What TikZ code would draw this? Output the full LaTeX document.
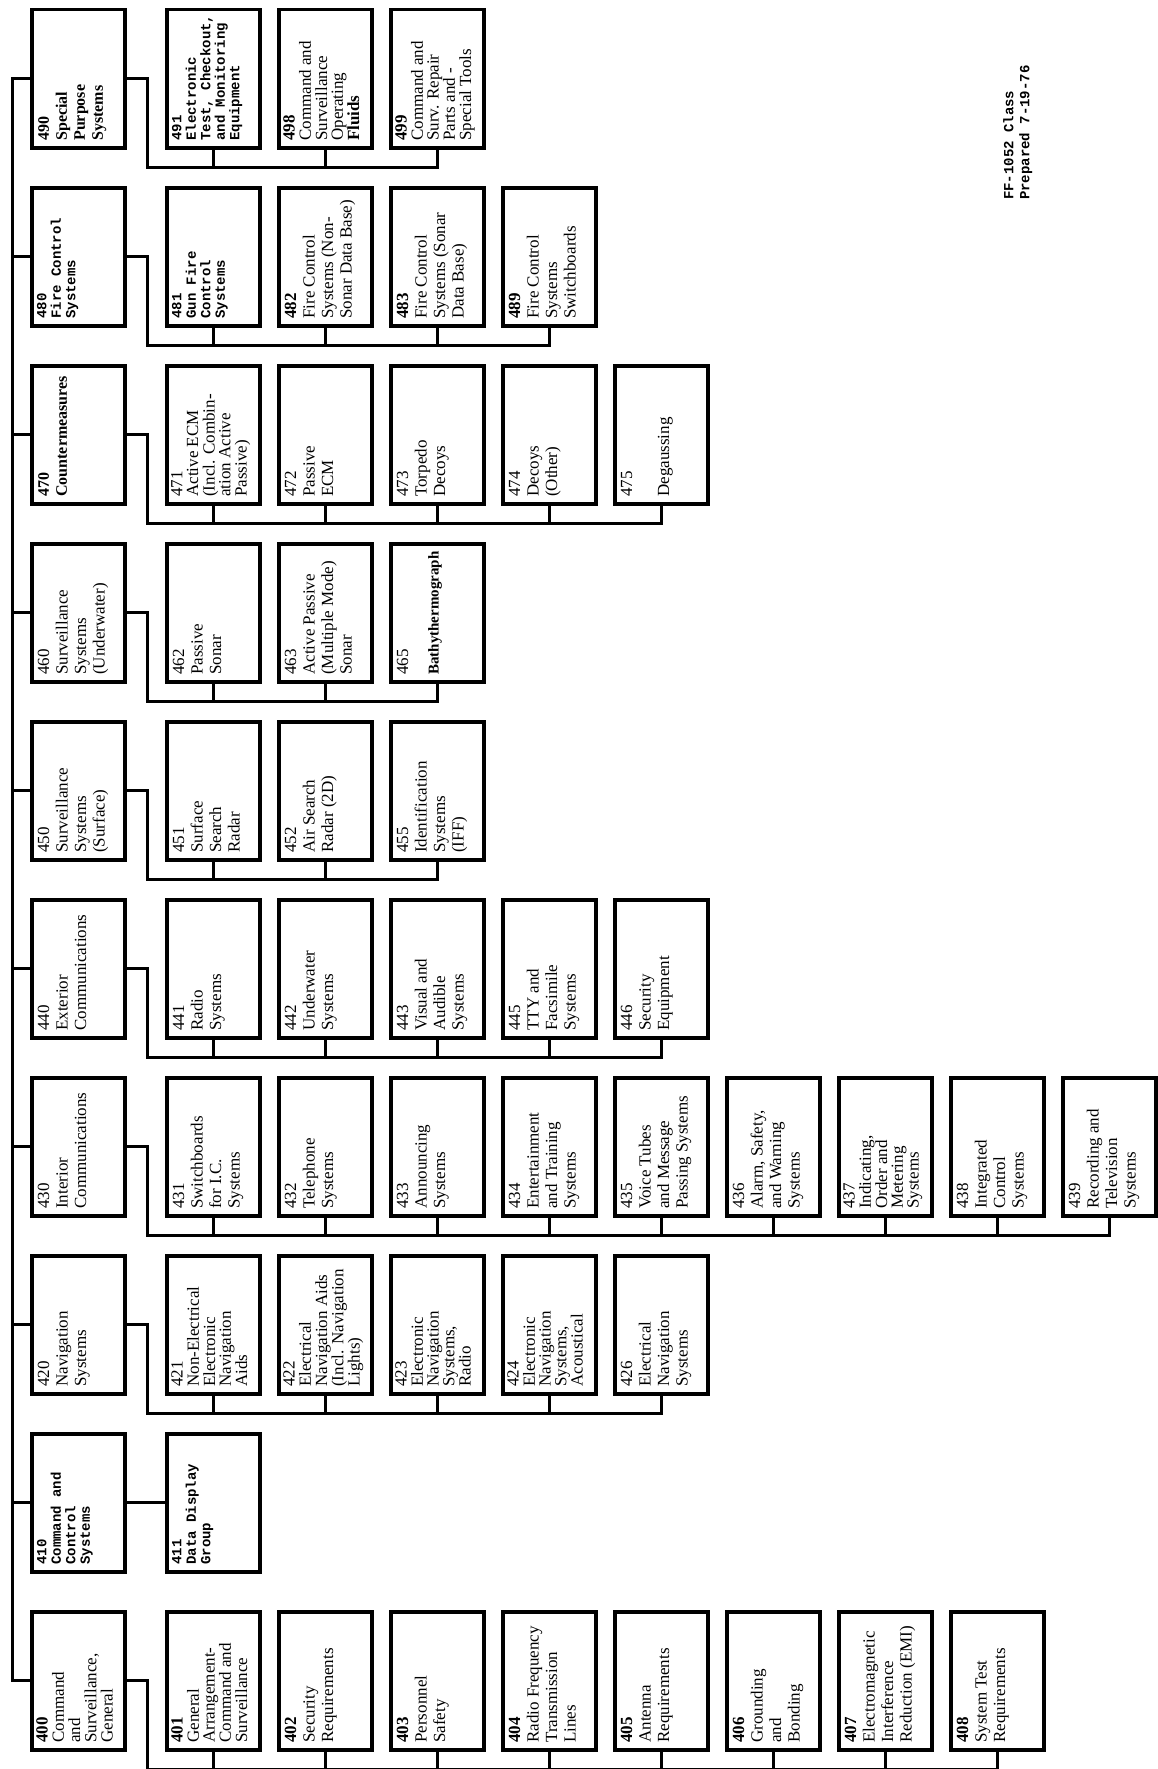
\documentclass[tikz,border=0pt]{standalone}
\usepackage{fontspec}
\setmainfont{Liberation Serif}
\setmonofont{Liberation Mono}
\usepackage{graphicx}
\usepackage{tikz}

% text of a box, turned to read upwards
\newcommand{\sidetext}[1]{\rotatebox{90}{\parbox[c][84pt][t]{124pt}{\begin{tabular}[t]{@{}l@{}}#1\end{tabular}}}}

\begin{document}
\begin{tikzpicture}[x=1pt, y=-1pt,
        unit/.style={draw, line width=3.5pt, anchor=north west, minimum width=93pt, minimum height=138pt, inner sep=0pt, font={\fontsize{17}{18.5}\selectfont}},
        dense/.style={font={\fontsize{17}{15}\selectfont}},
        heavy/.style={font={\bfseries\fontsize{16}{18}\selectfont}},
        typed/.style={font={\ttfamily\bfseries\fontsize{14}{14.5}\selectfont}},
        link/.style={line width=3pt}
    ]
        \useasboundingbox (0,0) rectangle (1158,1769);

        % 490 row
        \node (n490) [unit, heavy] at (30,8) {\sidetext{490\\Special\\Purpose\\Systems}};
        \node (n491) [unit, typed] at (165,8) {\sidetext{491\\Electronic\\Test, Checkout,\\and Monitoring\\Equipment}};
        \node (n498) [unit, dense] at (277,8) {\sidetext{\textbf{498}\\Command and\\Surveillance\\Operating\\\textbf{Fluids}}};
        \node (n499) [unit, dense] at (389,8) {\sidetext{\textbf{499}\\Command and\\Surv. Repair\\Parts and -\\Special Tools}};

        % 480 row
        \node (n480) [unit, typed] at (30,186) {\sidetext{480\\Fire Control\\Systems}};
        \node (n481) [unit, typed] at (165,186) {\sidetext{481\\Gun Fire\\Control\\Systems}};
        \node (n482) [unit] at (277,186) {\sidetext{\textbf{482}\\Fire Control\\Systems (Non-\\Sonar Data Base)}};
        \node (n483) [unit] at (389,186) {\sidetext{\textbf{483}\\Fire Control\\Systems (Sonar\\Data Base)}};
        \node (n489) [unit] at (501,186) {\sidetext{\textbf{489}\\Fire Control\\Systems\\Switchboards}};

        % 470 row
        \node (n470) [unit, heavy] at (30,364) {\sidetext{470\\Countermeasures}};
        \node (n471) [unit, dense] at (165,364) {\sidetext{471\\Active ECM\\(Incl. Combin-\\ation Active\\Passive)}};
        \node (n472) [unit] at (277,364) {\sidetext{472\\Passive\\ECM}};
        \node (n473) [unit] at (389,364) {\sidetext{473\\Torpedo\\Decoys}};
        \node (n474) [unit] at (501,364) {\sidetext{474\\Decoys\\(Other)}};
        \node (n475) [unit] at (613,364) {\sidetext{475\\ \\Degaussing}};

        % 460 row
        \node (n460) [unit] at (30,542) {\sidetext{460\\Surveillance\\Systems\\(Underwater)}};
        \node (n462) [unit] at (165,542) {\sidetext{462\\Passive\\Sonar}};
        \node (n463) [unit] at (277,542) {\sidetext{463\\Active Passive\\(Multiple Mode)\\Sonar}};
        \node (n465) [unit] at (389,542) {\sidetext{465\\[12pt]{\bfseries\fontsize{15}{17}\selectfont Bathythermograph}}};

        % 450 row
        \node (n450) [unit] at (30,720) {\sidetext{450\\Surveillance\\Systems\\(Surface)}};
        \node (n451) [unit] at (165,720) {\sidetext{451\\Surface\\Search\\Radar}};
        \node (n452) [unit] at (277,720) {\sidetext{452\\Air Search\\Radar (2D)}};
        \node (n455) [unit] at (389,720) {\sidetext{455\\Identification\\Systems\\(IFF)}};

        % 440 row
        \node (n440) [unit] at (30,898) {\sidetext{440\\Exterior\\Communications}};
        \node (n441) [unit] at (165,898) {\sidetext{441\\Radio\\Systems}};
        \node (n442) [unit] at (277,898) {\sidetext{442\\Underwater\\Systems}};
        \node (n443) [unit] at (389,898) {\sidetext{443\\Visual and\\Audible\\Systems}};
        \node (n445) [unit] at (501,898) {\sidetext{445\\TTY and\\Facsimile\\Systems}};
        \node (n446) [unit] at (613,898) {\sidetext{446\\Security\\Equipment}};

        % 430 row
        \node (n430) [unit] at (30,1076) {\sidetext{430\\Interior\\Communications}};
        \node (n431) [unit] at (165,1076) {\sidetext{431\\Switchboards\\for I.C.\\Systems}};
        \node (n432) [unit] at (277,1076) {\sidetext{432\\Telephone\\Systems}};
        \node (n433) [unit] at (389,1076) {\sidetext{433\\Announcing\\Systems}};
        \node (n434) [unit] at (501,1076) {\sidetext{434\\Entertainment\\and Training\\Systems}};
        \node (n435) [unit] at (613,1076) {\sidetext{435\\Voice Tubes\\and Message\\Passing Systems}};
        \node (n436) [unit] at (725,1076) {\sidetext{436\\Alarm, Safety,\\and Warning\\Systems}};
        \node (n437) [unit, dense] at (837,1076) {\sidetext{437\\Indicating,\\Order and\\Metering\\Systems}};
        \node (n438) [unit] at (949,1076) {\sidetext{438\\Integrated\\Control\\Systems}};
        \node (n439) [unit] at (1061,1076) {\sidetext{439\\Recording and\\Television\\Systems}};

        % 420 row
        \node (n420) [unit] at (30,1254) {\sidetext{420\\Navigation\\Systems}};
        \node (n421) [unit, dense] at (165,1254) {\sidetext{421\\Non-Electrical\\Electronic\\Navigation\\Aids}};
        \node (n422) [unit, dense] at (277,1254) {\sidetext{422\\Electrical\\Navigation Aids\\(Incl. Navigation\\Lights)}};
        \node (n423) [unit, dense] at (389,1254) {\sidetext{423\\Electronic\\Navigation\\Systems,\\Radio}};
        \node (n424) [unit, dense] at (501,1254) {\sidetext{424\\Electronic\\Navigation\\Systems,\\Acoustical}};
        \node (n426) [unit] at (613,1254) {\sidetext{426\\Electrical\\Navigation\\Systems}};

        % 410 row
        \node (n410) [unit, typed] at (30,1432) {\sidetext{410\\Command and\\Control\\Systems}};
        \node (n411) [unit, typed] at (165,1432) {\sidetext{411\\Data Display\\Group}};

        % 400 row
        \node (n400) [unit, dense] at (30,1610) {\sidetext{\textbf{400}\\Command\\and\\Surveillance,\\General}};
        \node (n401) [unit, dense] at (165,1610) {\sidetext{\textbf{401}\\General\\Arrangement-\\Command and\\Surveillance}};
        \node (n402) [unit] at (277,1610) {\sidetext{\textbf{402}\\Security\\Requirements}};
        \node (n403) [unit] at (389,1610) {\sidetext{\textbf{403}\\Personnel\\Safety}};
        \node (n404) [unit] at (501,1610) {\sidetext{\textbf{404}\\Radio Frequency\\Transmission\\Lines}};
        \node (n405) [unit] at (613,1610) {\sidetext{\textbf{405}\\Antenna\\Requirements}};
        \node (n406) [unit] at (725,1610) {\sidetext{\textbf{406}\\Grounding\\and\\Bonding}};
        \node (n407) [unit] at (837,1610) {\sidetext{\textbf{407}\\Electromagnetic\\Interference\\Reduction (EMI)}};
        \node (n408) [unit] at (949,1610) {\sidetext{\textbf{408}\\System Test\\Requirements}};

        % Stamp
        \node (stamp) [rotate=90, anchor=north west, align=left, inner sep=0pt, font={\ttfamily\bfseries\fontsize{14}{16}\selectfont}] at (1003,200) {FF-1052 Class\\Prepared 7-19-76};

        % Trunk
        \draw [link] (n490.west) -- ++(-18,0) |- (n400.west);
        \draw [link] (n480.west) -- ++(-18,0);
        \draw [link] (n470.west) -- ++(-18,0);
        \draw [link] (n460.west) -- ++(-18,0);
        \draw [link] (n450.west) -- ++(-18,0);
        \draw [link] (n440.west) -- ++(-18,0);
        \draw [link] (n430.west) -- ++(-18,0);
        \draw [link] (n420.west) -- ++(-18,0);
        \draw [link] (n410.west) -- ++(-18,0);

        % Buses - 490
        \draw [link] (n490.east) -- ++(21,0) |- ([yshift=-18pt]n499.south) -- (n499.south);
        \draw [link] (n491.south) -- ++(0,18);
        \draw [link] (n498.south) -- ++(0,18);

        % Buses - 480
        \draw [link] (n480.east) -- ++(21,0) |- ([yshift=-18pt]n489.south) -- (n489.south);
        \draw [link] (n481.south) -- ++(0,18);
        \draw [link] (n482.south) -- ++(0,18);
        \draw [link] (n483.south) -- ++(0,18);

        % Buses - 470
        \draw [link] (n470.east) -- ++(21,0) |- ([yshift=-18pt]n475.south) -- (n475.south);
        \draw [link] (n471.south) -- ++(0,18);
        \draw [link] (n472.south) -- ++(0,18);
        \draw [link] (n473.south) -- ++(0,18);
        \draw [link] (n474.south) -- ++(0,18);

        % Buses - 460
        \draw [link] (n460.east) -- ++(21,0) |- ([yshift=-18pt]n465.south) -- (n465.south);
        \draw [link] (n462.south) -- ++(0,18);
        \draw [link] (n463.south) -- ++(0,18);

        % Buses - 450
        \draw [link] (n450.east) -- ++(21,0) |- ([yshift=-18pt]n455.south) -- (n455.south);
        \draw [link] (n451.south) -- ++(0,18);
        \draw [link] (n452.south) -- ++(0,18);

        % Buses - 440
        \draw [link] (n440.east) -- ++(21,0) |- ([yshift=-18pt]n446.south) -- (n446.south);
        \draw [link] (n441.south) -- ++(0,18);
        \draw [link] (n442.south) -- ++(0,18);
        \draw [link] (n443.south) -- ++(0,18);
        \draw [link] (n445.south) -- ++(0,18);

        % Buses - 430
        \draw [link] (n430.east) -- ++(21,0) |- ([yshift=-18pt]n439.south) -- (n439.south);
        \draw [link] (n431.south) -- ++(0,18);
        \draw [link] (n432.south) -- ++(0,18);
        \draw [link] (n433.south) -- ++(0,18);
        \draw [link] (n434.south) -- ++(0,18);
        \draw [link] (n435.south) -- ++(0,18);
        \draw [link] (n436.south) -- ++(0,18);
        \draw [link] (n437.south) -- ++(0,18);
        \draw [link] (n438.south) -- ++(0,18);

        % Buses - 420
        \draw [link] (n420.east) -- ++(21,0) |- ([yshift=-18pt]n426.south) -- (n426.south);
        \draw [link] (n421.south) -- ++(0,18);
        \draw [link] (n422.south) -- ++(0,18);
        \draw [link] (n423.south) -- ++(0,18);
        \draw [link] (n424.south) -- ++(0,18);

        % 410 to 411
        \draw [link] (n410) -- (n411);

        % Buses - 400
        \draw [link] (n400.east) -- ++(21,0) |- ([yshift=-18pt]n408.south) -- (n408.south);
        \draw [link] (n401.south) -- ++(0,18);
        \draw [link] (n402.south) -- ++(0,18);
        \draw [link] (n403.south) -- ++(0,18);
        \draw [link] (n404.south) -- ++(0,18);
        \draw [link] (n405.south) -- ++(0,18);
        \draw [link] (n406.south) -- ++(0,18);
        \draw [link] (n407.south) -- ++(0,18);
    \end{tikzpicture}
\end{document}
